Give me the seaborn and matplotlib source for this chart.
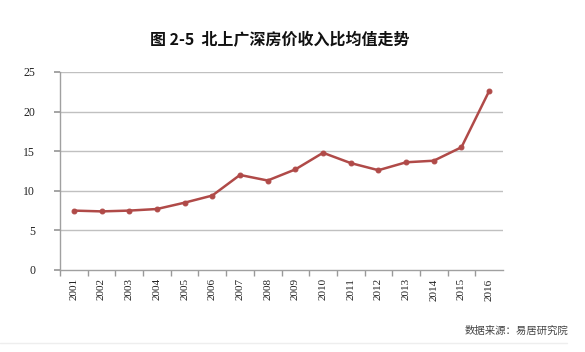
import matplotlib
matplotlib.use("Agg")
import matplotlib.pyplot as plt
import seaborn as sns
import pandas as pd
import numpy as np

years = [2001, 2002, 2003, 2004, 2005, 2006, 2007, 2008,
         2009, 2010, 2011, 2012, 2013, 2014, 2015, 2016]
ratio = [7.5, 7.4, 7.5, 7.7, 8.5, 9.4, 12.0, 11.3,
         12.7, 14.8, 13.5, 12.6, 13.6, 13.8, 15.5, 22.6]
yticks = [0, 5, 10, 15, 20, 25]
title = "图 2-5  北上广深房价收入比均值走势"
source = "数据来源：易居研究院"

sns.set_theme(style="white")
plt.rcParams['font.family'] = ['Noto Sans CJK SC', 'DejaVu Sans']

df = pd.DataFrame({"year": years, "ratio": ratio})

fig = plt.figure(figsize=(5.85, 3.52), dpi=100)
ax = fig.add_axes([60/585, 1-270/352, 443/585, 198/352])

sns.lineplot(data=df, x="year", y="ratio", ax=ax, color="#b04a48",
             linewidth=1.8, marker="o", markersize=3.5,
             markeredgecolor="#b04a48", markerfacecolor="#b04a48")

ax.set_xlim(years[0]-0.5, years[-1]+0.5)
ax.set_ylim(0, 25)
ax.set_yticks(yticks)
ax.set_xticks(years)
serif = ['Liberation Serif', 'DejaVu Serif']
ax.set_yticklabels([str(v) for v in yticks], fontsize=8.5, family=serif, color="#222222")
ax.set_xticklabels([str(y) for y in years], rotation=90, fontsize=8, family=serif, color="#222222")
ax.set_xticks([y + 0.5 for y in years[:-1]] + [years[0]-0.5], minor=True)
ax.tick_params(axis='x', which='major', length=0, pad=6)
ax.tick_params(axis='x', which='minor', length=4, color="#999999", direction='out', bottom=True)
ax.tick_params(axis='y', which='major', length=4, color="#999999", direction='out', left=True, pad=14)
for v in yticks[1:]:
    ax.axhline(v, color="#c0c0c0", linewidth=1.0, zorder=0)
ax.set_xlabel("")
ax.set_ylabel("")
for s in ["top", "right"]:
    ax.spines[s].set_visible(False)
for s in ["left", "bottom"]:
    ax.spines[s].set_color("#a0a0a0")
    ax.spines[s].set_linewidth(1.0)

fig.text(280/585, 1-40/352, title, ha="center", va="center", fontsize=11.5,
         fontweight="bold", color="#111111")
fig.text(568/585, 1-331/352, source, ha="right", va="center", fontsize=7.5,
         color="#444444")
fig.add_artist(plt.Line2D([0.0, 0.97], [1-343/352, 1-343/352], color="#eeeeee", linewidth=1))

fig.savefig("out.png", dpi=100)
